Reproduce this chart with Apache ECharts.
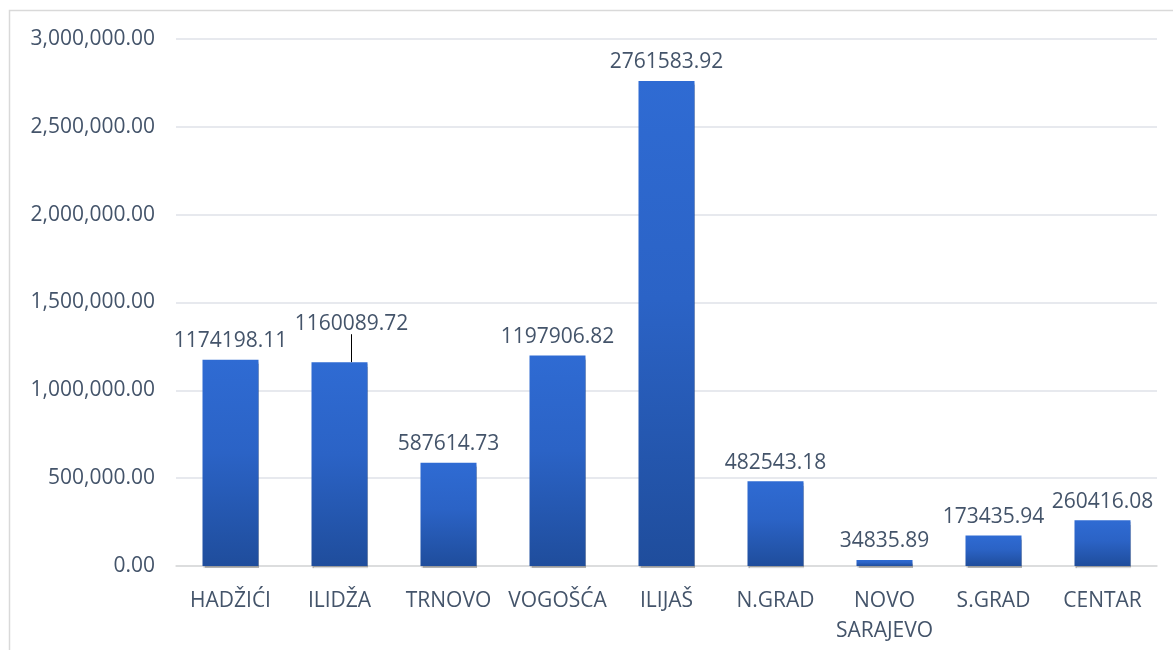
<!DOCTYPE html>
<html>
<head>
<meta charset="utf-8">
<script src="https://cdn.jsdelivr.net/npm/echarts@6/dist/echarts.min.js"></script>
<style>
  html, body { margin: 0; padding: 0; background: #fff; }
  #chart { width: 1173px; height: 650px; }
</style>
</head>
<body>
<div id="chart"></div>
<script>
var categories = ['HADŽIĆI', 'ILIDŽA', 'TRNOVO', 'VOGOŠĆA', 'ILIJAŠ', 'N.GRAD', 'NOVO\nSARAJEVO', 'S.GRAD', 'CENTAR'];
var values = [1174198.11, 1160089.72, 587614.73, 1197906.82, 2761583.92, 482543.18, 34835.89, 173435.94, 260416.08];
var yTicks = [0, 500000, 1000000, 1500000, 2000000, 2500000, 3000000];

var chartDom = document.getElementById('chart');
var myChart = echarts.init(chartDom);
var textColor = '#44546a';
var fontFam = '"Open Sans", "Noto Sans", sans-serif';

// only the ILIDŽA label is pushed up with a leader line
var barData = values.map(function (v, i) {
  if (i === 1) return { value: v, labelLine: { show: true } };
  return v;
});

var option = {
  animation: false,
  graphic: [{
    type: 'rect',
    shape: { x: 9.5, y: 10.5, width: 1180, height: 660 },
    style: { fill: 'none', stroke: '#d9d9d9', lineWidth: 1.5 },
    silent: true
  }],
  grid: { left: 176, right: 16, top: 39, bottom: 84 },
  xAxis: {
    type: 'category',
    data: categories,
    axisTick: { show: false },
    axisLine: { lineStyle: { color: '#d9d9d9', width: 1.5 } },
    axisLabel: {
      color: textColor, fontSize: 21, fontFamily: fontFam,
      margin: 20, lineHeight: 30, interval: 0
    }
  },
  yAxis: {
    type: 'value',
    min: yTicks[0],
    max: yTicks[yTicks.length - 1],
    interval: 500000,
    axisLine: { show: false },
    axisTick: { show: false },
    splitLine: { lineStyle: { color: '#dfe2e8', width: 1.5 } },
    axisLabel: {
      color: textColor, fontSize: 21, fontFamily: fontFam, margin: 21,
      formatter: function (v) {
        return v.toLocaleString('en-US', { minimumFractionDigits: 2, maximumFractionDigits: 2 });
      }
    }
  },
  series: [{
    type: 'bar',
    data: barData,
    barWidth: 56,
    itemStyle: {
      color: new echarts.graphic.LinearGradient(0, 0, 0, 1, [
        { offset: 0, color: '#2f6bd3' },
        { offset: 0.45, color: '#2b63c6' },
        { offset: 1, color: '#1f4d9c' }
      ]),
      shadowColor: 'rgba(0,0,0,0.3)',
      shadowOffsetY: 2,
      shadowBlur: 1
    },
    label: {
      show: true,
      position: 'top',
      distance: 8,
      color: textColor,
      fontSize: 21,
      fontFamily: fontFam,
      formatter: function (p) { return p.value.toFixed(2); }
    },
    labelLayout: function (p) {
      if (p.dataIndex === 1) return { dx: 12, dy: -20 };
      return {};
    },
    labelLine: { show: false, lineStyle: { color: '#000', width: 1 } }
  }]
};
option && myChart.setOption(option);
</script>
</body>
</html>
